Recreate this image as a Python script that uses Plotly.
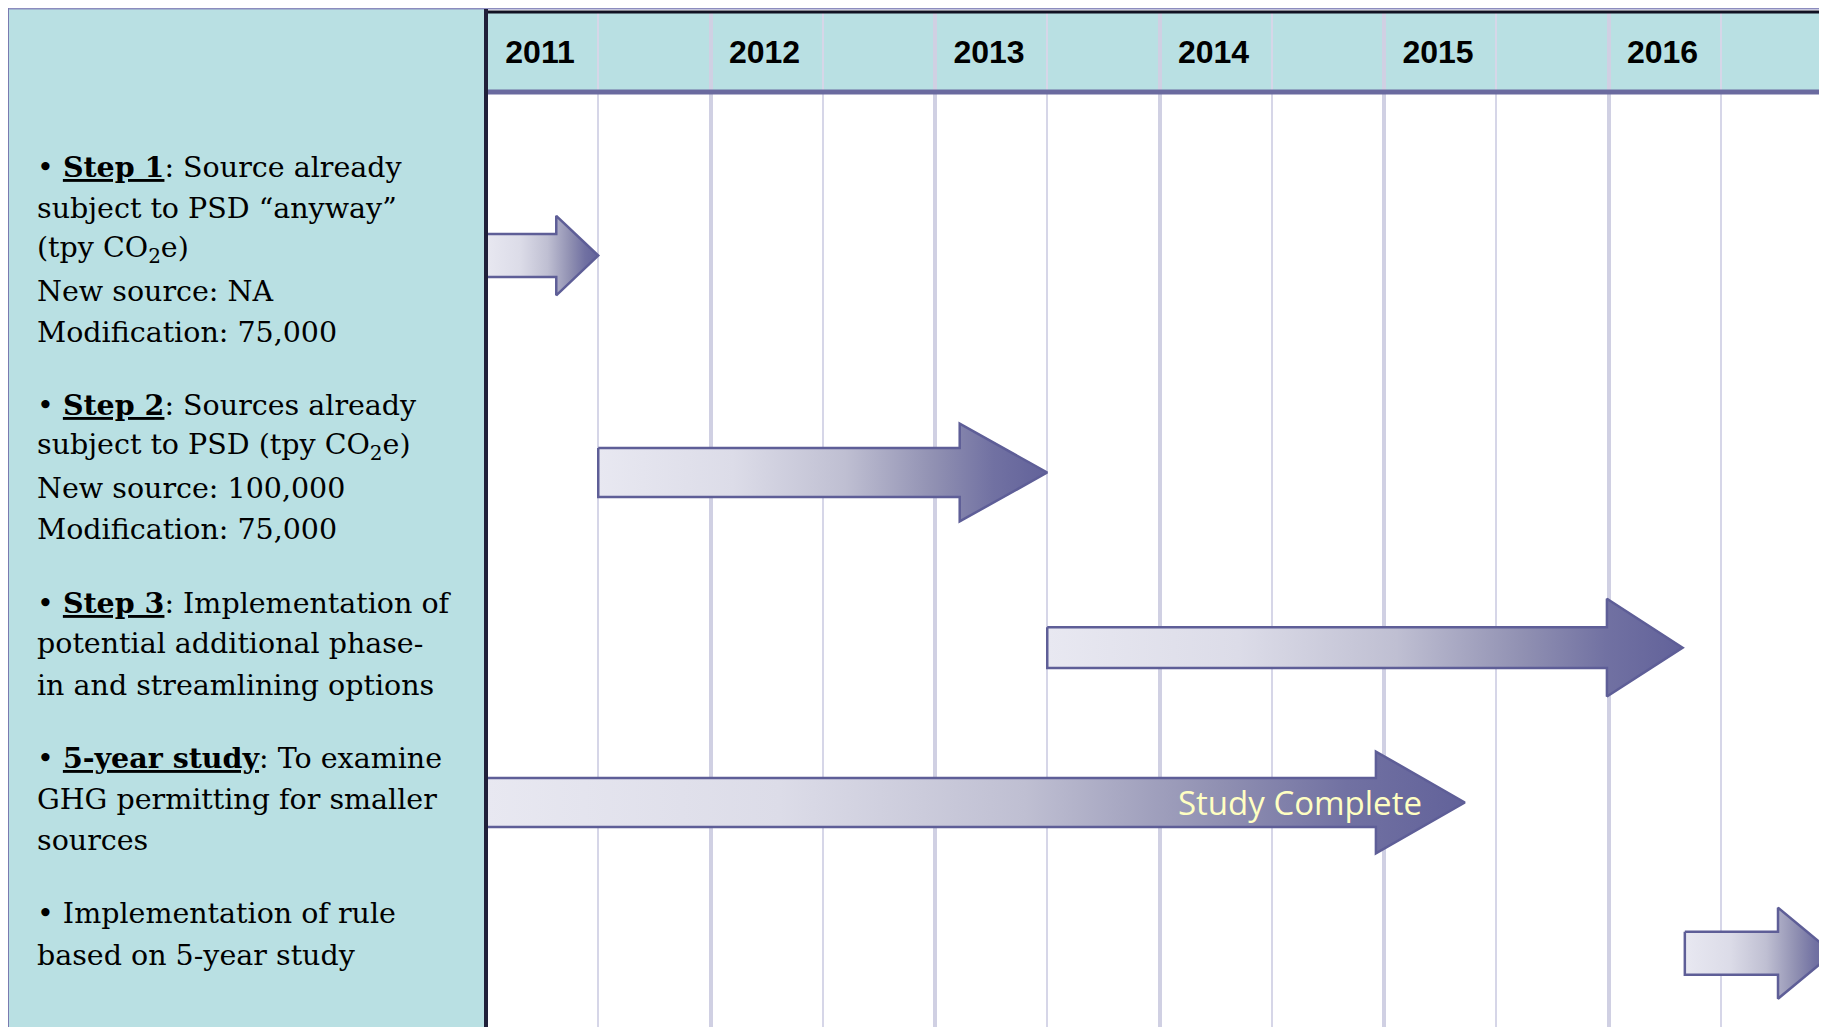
import plotly.graph_objects as go

# ---------------- data ----------------
years = [2011, 2012, 2013, 2014, 2015, 2016]
half_years = [2011.5, 2012.5, 2013.5, 2014.5, 2015.5, 2016.5]
year_labels = ["2011", "2012", "2013", "2014", "2015", "2016"]

phase_names = ["Step 1", "Step 2", "Step 3", "5-year study", "Implementation of rule"]
phase_start = [2011.0, 2011.5, 2013.5, 2011.0, 2016.34]
phase_end = [2011.5, 2013.5, 2016.33, 2015.36, 2017.0]

step1_text = [
    "• <u><b>Step 1</b></u>: Source already",
    "subject to PSD “anyway”",
    "(tpy CO<sub>2</sub>e)",
    "New source: NA",
    "Modification: 75,000",
]
step2_text = [
    "• <u><b>Step 2</b></u>: Sources already",
    "subject to PSD (tpy CO<sub>2</sub>e)",
    "New source: 100,000",
    "Modification: 75,000",
]
step3_text = [
    "• <u><b>Step 3</b></u>: Implementation of",
    "potential additional phase-",
    "in and streamlining options",
]
study_text = [
    "• <u><b>5-year study</b></u>: To examine",
    "GHG permitting for smaller",
    "sources",
]
impl_text = [
    "• Implementation of rule",
    "based on 5-year study",
]
milestone_label = "Study Complete"

# ---------------- layout / style ----------------
OFF = 8                      # page body margin in the browser
W, H = 1827 - OFF, 1027 - OFF
L_M, T_M = 486 - OFF, 12 - OFF
PX_PER_YEAR = 224.5
LINE_PX = 41.4
FIRST_LINE_PX = 167.0 - OFF
BLOCK_GAP = 0.76          # extra gap between text blocks (in line units)

BODY_HALF = [0.52, 0.59, 0.49, 0.59, 0.52]   # line units
HEAD_HALF = [0.96, 1.18, 1.18, 1.23, 1.10]   # line units
HEAD_LEN = [0.187, 0.39, 0.337, 0.396, 0.245]  # years
ROW_NUDGE = [0.14, 0.12, 0.09, 0.07, 0.45]     # line units

TEAL = "#B9E0E3"
PURPLE = "#6A6A9F"
GRID = "#D0D0E3"
ARROW_EDGE = "#5E5E97"
ARROW_SCALE = [
    [0.0, "#E8E8F1"], [0.3, "#DCDCE8"], [0.55, "#BFBFD2"],
    [0.75, "#9090B2"], [0.88, "#7171A2"], [1.0, "#62629A"],
]

x_range = [2011, 2011 + (W - L_M) / PX_PER_YEAR]
y_range = [(H - FIRST_LINE_PX) / LINE_PX, (T_M - FIRST_LINE_PX) / LINE_PX]


def px_x(px):
    """reference-page pixel -> paper x"""
    return (px - OFF - L_M) / (W - L_M)


def px_y(py):
    """reference-page pixel -> paper y"""
    return 1 - (py - OFF - T_M) / (H - T_M)


blocks = [step1_text, step2_text, step3_text, study_text, impl_text]
line_pos = []
centers = []
cur = 0.0
for b in blocks:
    pos = [cur + i for i in range(len(b))]
    line_pos.append(pos)
    centers.append(sum(pos) / len(pos))
    cur += len(b) + BLOCK_GAP
centers = [c + n for c, n in zip(centers, ROW_NUDGE)]

fig = go.Figure()

for i, name in enumerate(phase_names):
    s, e, c = phase_start[i], phase_end[i], centers[i]
    hl, bh, hh = HEAD_LEN[i], BODY_HALF[i], HEAD_HALF[i]
    xs = [s, e - hl, e - hl, e, e - hl, e - hl, s, s]
    ys = [c - bh, c - bh, c - hh, c, c + hh, c + bh, c + bh, c - bh]
    fig.add_trace(go.Scatter(
        x=xs, y=ys, mode="lines", fill="toself", name=name,
        line=dict(color=ARROW_EDGE, width=2.5),
        fillgradient=dict(type="horizontal", colorscale=ARROW_SCALE),
        hoverinfo="skip", showlegend=False,
    ))

annotations = []
text_x = px_x(35)
for b, pos in zip(blocks, line_pos):
    for t, p in zip(b, pos):
        annotations.append(dict(
            x=text_x, xref="paper", y=p, yref="y", text=t, showarrow=False,
            xanchor="left", yanchor="middle",
            font=dict(family="DejaVu Serif", size=28.5, color="#000000"),
        ))
annotations.append(dict(
    x=phase_end[3] - 0.18, xref="x", y=centers[3], yref="y",
    text=milestone_label, showarrow=False, xanchor="right", yanchor="middle",
    font=dict(family="Open Sans", size=33, color="#FFFFC2"),
))

shapes = [
    # left description panel
    dict(type="rect", xref="paper", yref="paper", x0=px_x(8), x1=0,
         y0=-0.02, y1=px_y(9), fillcolor=TEAL, line=dict(width=0), layer="below"),
    # header band (inside plot, below grid)
    dict(type="rect", xref="paper", yref="paper", x0=0, x1=1,
         y0=px_y(92), y1=1, fillcolor=TEAL, line=dict(width=0), layer="below"),
    # thin top border across everything
    dict(type="line", xref="paper", yref="paper", x0=px_x(7), x1=1,
         y0=px_y(8.5), y1=px_y(8.5), line=dict(color="#8C8CBE", width=2)),
    # panel left border
    dict(type="line", xref="paper", yref="paper", x0=px_x(8), x1=px_x(8),
         y0=-0.02, y1=px_y(8), line=dict(color="#7A7AB0", width=2)),
    # black header top line
    dict(type="line", xref="paper", yref="paper", x0=0, x1=1,
         y0=1, y1=1, line=dict(color="#111122", width=3)),
    # header bottom border
    dict(type="line", xref="paper", yref="paper", x0=0, x1=1,
         y0=px_y(92), y1=px_y(92), line=dict(color=PURPLE, width=5)),
    # divider between panel and timeline
    dict(type="line", xref="paper", yref="paper", x0=0, x1=0,
         y0=-0.02, y1=px_y(9), line=dict(color="#20203A", width=4)),
]

fig.update_layout(
    width=W, height=H,
    margin=dict(l=L_M, r=0, t=T_M, b=0, pad=0),
    paper_bgcolor="#FFFFFF", plot_bgcolor="#FFFFFF",
    shapes=shapes, annotations=annotations, showlegend=False,
    xaxis=dict(
        range=x_range, side="top", tickmode="array", tickvals=years,
        ticktext=year_labels, ticks="", showline=False, zeroline=False,
        showgrid=True, gridcolor=GRID, gridwidth=4,
        ticklabelposition="inside", ticklabeloverflow="allow",
        ticklabelshift=54, ticklabelstandoff=26,
        tickfont=dict(family="Liberation Sans", size=32, color="#000000", weight="bold"),
        minor=dict(tickvals=half_years, showgrid=True, gridcolor="#D6D6E8",
                   gridwidth=2.3, ticks=""),
        fixedrange=True,
    ),
    yaxis=dict(range=y_range, showgrid=False, zeroline=False,
               showticklabels=False, ticks="", fixedrange=True),
)

fig.write_html("out.html")
